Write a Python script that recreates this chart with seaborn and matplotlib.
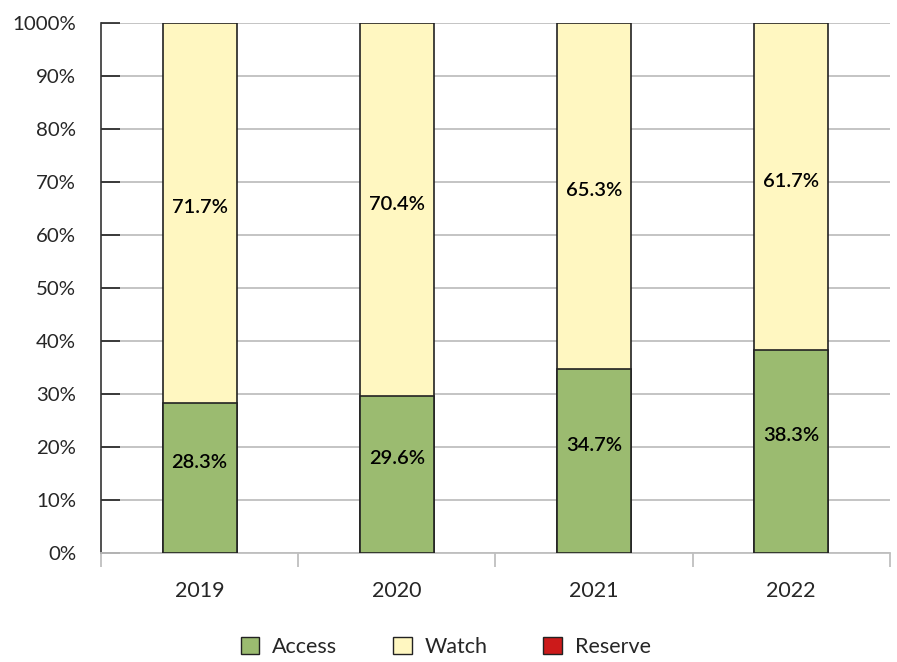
import matplotlib
matplotlib.use("Agg")
import matplotlib.pyplot as plt
import seaborn as sns
import pandas as pd
from matplotlib.patches import Patch

years = ["2019", "2020", "2021", "2022"]
access = [28.3, 29.6, 34.7, 38.3]
watch = [71.7, 70.4, 65.3, 61.7]
reserve = [0.0, 0.0, 0.0, 0.0]
ytick_vals = [0, 10, 20, 30, 40, 50, 60, 70, 80, 90, 100]
ytick_labels = ["0%", "10%", "20%", "30%", "40%", "50%", "60%", "70%", "80%", "90%", "1000%"]

c_access = "#9bbb70"
c_watch = "#fff7c1"
c_reserve = "#cc1a1a"

sns.set_theme(style="white")
plt.rcParams["font.family"] = ["Lato", "DejaVu Sans"]

df = pd.DataFrame({"year": years, "access": access, "watch": watch, "reserve": reserve})
df["top_watch"] = df["access"] + df["watch"]

fig = plt.figure(figsize=(8.97, 6.62), dpi=100)
ax = fig.add_axes([0.1126, 0.1647, 0.8794, 0.8006])

sns.barplot(data=df, x="year", y="top_watch", color=c_watch, width=0.375,
            edgecolor="#222222", linewidth=1.2, ax=ax, saturation=1, zorder=3)
sns.barplot(data=df, x="year", y="access", color=c_access, width=0.375,
            edgecolor="#222222", linewidth=1.2, ax=ax, saturation=1, zorder=4)

for i, (a, w) in enumerate(zip(access, watch)):
    ax.text(i, a / 2 + 3, f"{a:.1f}%", ha="center", va="center", fontsize=14.5,
            fontweight="semibold", color="black", zorder=5)
    ax.text(i, a + w / 2 + 1, f"{w:.1f}%", ha="center", va="center", fontsize=14.5,
            fontweight="semibold", color="black", zorder=5)

ax.set_ylim(0, 100)
ax.set_xlim(-0.5, 3.5)
ax.set_yticks(ytick_vals)
ax.set_yticklabels(ytick_labels, fontsize=14.7)
ax.set_xticks(range(len(years)))
ax.set_xticklabels(years, fontsize=15.5)
ax.set_xlabel("")
ax.set_ylabel("")

ax.yaxis.grid(True, color="#bfbfbf", linewidth=1.3, zorder=0)
ax.set_axisbelow(True)

for s in ["top", "right"]:
    ax.spines[s].set_visible(False)
ax.spines["left"].set_color("#333333")
ax.spines["left"].set_linewidth(1.2)
ax.spines["bottom"].set_color("#bfbfbf")
ax.spines["bottom"].set_linewidth(1.3)

ax.tick_params(axis="y", direction="in", length=14, width=1.2, color="#222222", pad=18, left=True)
ax.tick_params(axis="x", length=0, pad=20)
ax.set_xticks([-0.5, 0.5, 1.5, 2.5, 3.5], minor=True)
ax.tick_params(axis="x", which="minor", direction="out", length=10, width=1.3, color="#bfbfbf", bottom=True)

handles = [Patch(facecolor=c_access, edgecolor="#222222", label="Access"),
           Patch(facecolor=c_watch, edgecolor="#222222", label="Watch"),
           Patch(facecolor=c_reserve, edgecolor="#222222", label="Reserve")]
fig.legend(handles=handles, loc="lower center", bbox_to_anchor=(0.497, -0.022), ncol=3,
           frameon=False, fontsize=15.5, handlelength=0.85, handleheight=0.85,
           columnspacing=2.6, handletextpad=0.6)

fig.savefig("out.png", dpi=100)
